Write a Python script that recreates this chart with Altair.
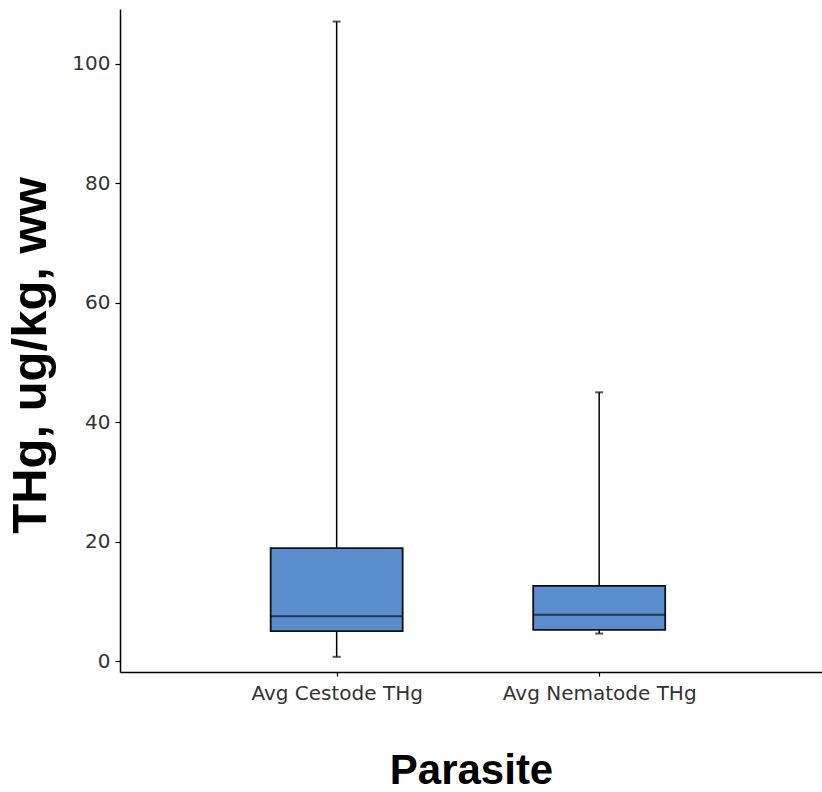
import altair as alt
import pandas as pd

categories = ["Avg Cestode THg", "Avg Nematode THg"]
mins = [0.7, 4.6]
q1s = [5.0, 5.2]
medians = [7.5, 7.75]
q3s = [18.9, 12.6]
maxs = [107.1, 45.0]
y_ticks = [0, 20, 40, 60, 80, 100]

df = pd.DataFrame({
    "cat": categories,
    "lo": mins,
    "q1": q1s,
    "med": medians,
    "q3": q3s,
    "hi": maxs,
})

xenc = alt.X(
    "cat:N",
    sort=categories,
    scale=alt.Scale(type="point", padding=0.837, align=0.493),
    axis=alt.Axis(
        title="Parasite",
        labelAngle=0,
        labelFont="DejaVu Sans",
        labelFontSize=20,
        labelColor="#333333",
        labelPadding=7,
        labelLimit=0,
        tickSize=4,
        titleFont="Liberation Sans",
        titleFontWeight="bold",
        titleFontSize=42,
        titleColor="#000000",
        titleX=351,
        titleY=111,
        titleAlign="center",
        titleBaseline="alphabetic",
    ),
)

yscale = alt.Scale(domain=[-1.84, 109.2], nice=False, zero=False)
yaxis = alt.Axis(
    title="THg, ug/kg, ww",
    values=y_ticks,
    labelFont="DejaVu Sans",
    labelFontSize=20,
    labelColor="#333333",
    labelPadding=5,
    tickSize=5,
    titleFont="Liberation Sans",
    titleFontWeight="bold",
    titleFontSize=49,
    titleColor="#000000",
    titleAngle=270,
    titleX=-75,
    titleY=346,
    titleAlign="center",
    titleBaseline="alphabetic",
)

base = alt.Chart(df)

whisker = base.mark_rule(color="#000000", strokeWidth=1.5).encode(
    x=xenc,
    y=alt.Y("lo:Q", scale=yscale, axis=yaxis),
    y2="hi:Q",
)

box = base.mark_bar(size=132, color="#5A8DCE", stroke="#111111", strokeWidth=1.8).encode(
    x=xenc,
    y=alt.Y("q1:Q", scale=yscale, axis=yaxis),
    y2="q3:Q",
)

median = base.mark_tick(size=132, thickness=2, color="#111111").encode(
    x=xenc,
    y=alt.Y("med:Q", scale=yscale, axis=yaxis),
)

cap_hi = base.mark_tick(size=8, thickness=2, color="#111111").encode(
    x=xenc,
    y=alt.Y("hi:Q", scale=yscale, axis=yaxis),
)
cap_lo = base.mark_tick(size=8, thickness=2, color="#111111").encode(
    x=xenc,
    y=alt.Y("lo:Q", scale=yscale, axis=yaxis),
)

chart = alt.layer(whisker, box, median, cap_hi, cap_lo).properties(
    width=702,
    height=663,
    autosize=alt.AutoSizeParams(type="none"),
    padding={"left": 120, "top": 9, "right": 0, "bottom": 120},
    background="#ffffff",
).configure_view(strokeWidth=0).configure_axis(
    grid=False,
    domainColor="#000000",
    domainWidth=1.5,
    tickColor="#000000",
    tickWidth=1.2,
)

chart.save("out.html", embed_options={"renderer": "svg", "actions": False})
